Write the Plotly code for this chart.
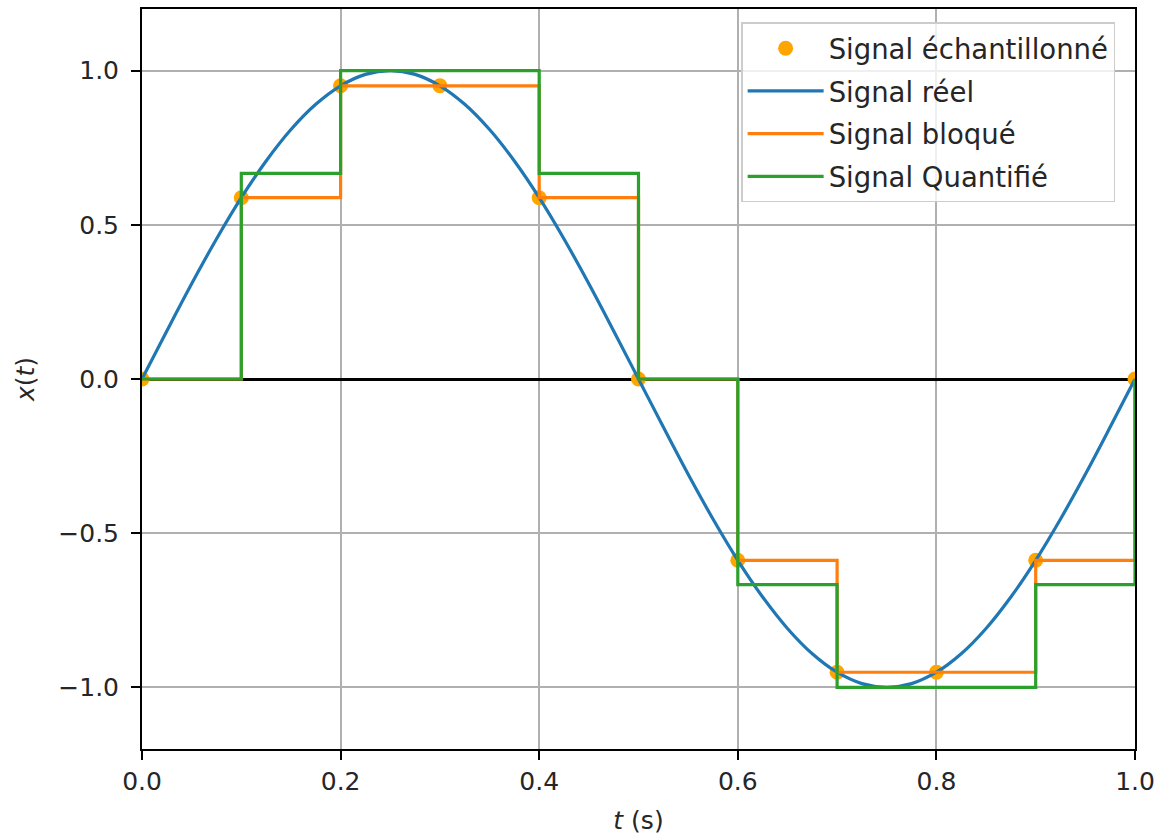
import plotly.graph_objects as go

# Time base of the continuous signal (s) and its amplitude
t_real = [0.000, 0.025, 0.050, 0.075, 0.100, 0.125, 0.150, 0.175, 0.200, 0.225,
          0.250, 0.275, 0.300, 0.325, 0.350, 0.375, 0.400, 0.425, 0.450, 0.475,
          0.500, 0.525, 0.550, 0.575, 0.600, 0.625, 0.650, 0.675, 0.700, 0.725,
          0.750, 0.775, 0.800, 0.825, 0.850, 0.875, 0.900, 0.925, 0.950, 0.975,
          1.000]
x_real = [0.000, 0.156, 0.309, 0.454, 0.588, 0.707, 0.809, 0.891, 0.951, 0.988,
          1.000, 0.988, 0.951, 0.891, 0.809, 0.707, 0.588, 0.454, 0.309, 0.156,
          0.000, -0.156, -0.309, -0.454, -0.588, -0.707, -0.809, -0.891, -0.951, -0.988,
          -1.000, -0.988, -0.951, -0.891, -0.809, -0.707, -0.588, -0.454, -0.309, -0.156,
          0.000]

# Sampling instants and sampled / held values
t_samples = [0.0, 0.1, 0.2, 0.3, 0.4, 0.5, 0.6, 0.7, 0.8, 0.9, 1.0]
x_samples = [0.000, 0.588, 0.951, 0.951, 0.588, 0.000, -0.588, -0.951, -0.951, -0.588, 0.000]

# Quantized levels (steps of 1/3)
x_quant = [0.0, 0.667, 1.0, 1.0, 0.667, 0.0, -0.667, -1.0, -1.0, -0.667, 0.0]

x_ticks = [0.0, 0.2, 0.4, 0.6, 0.8, 1.0]
x_ticklabels = ["0.0", "0.2", "0.4", "0.6", "0.8", "1.0"]
y_ticks = [-1.0, -0.5, 0.0, 0.5, 1.0]
y_ticklabels = ["\u22121.0", "\u22120.5", "0.0", "0.5", "1.0"]

FONT = "DejaVu Sans"
FS = 25
LW = 3.2

fig = go.Figure()

fig.add_trace(go.Scatter(
    x=t_samples, y=x_samples, mode="markers", name="Signal échantillonné",
    legendgroup="a",
    marker=dict(color="#ffa500", size=15, line=dict(width=0)),
))
fig.add_trace(go.Scatter(
    x=t_real, y=x_real, mode="lines", name="Signal réel", legendgroup="b",
    line=dict(color="#1f77b4", width=LW, shape="spline", smoothing=1.0),
))
fig.add_trace(go.Scatter(
    x=t_samples, y=x_samples, mode="lines", name="Signal bloqué", legendgroup="c",
    line=dict(color="#ff7f0e", width=LW, shape="hv"),
))
fig.add_trace(go.Scatter(
    x=t_samples, y=x_quant, mode="lines", name="Signal Quantifié", legendgroup="d",
    line=dict(color="#2ca02c", width=LW, shape="hv"),
))

axis_common = dict(
    showline=True, linecolor="black", linewidth=2, mirror=True,
    ticks="outside", ticklen=9, tickwidth=2, tickcolor="black",
    showgrid=True, gridcolor="#b0b0b0", gridwidth=1.5,
    tickfont=dict(family=FONT, size=FS, color="#262626"),
    automargin=False,
)

fig.update_xaxes(
    range=[0, 1], tickvals=x_ticks, ticktext=x_ticklabels,
    zeroline=False,
    title=dict(text="<i>t</i> (s)", font=dict(family=FONT, size=FS, color="#262626"), standoff=16),
    **axis_common,
)
fig.update_yaxes(
    range=[-1.2, 1.2], tickvals=y_ticks, ticktext=y_ticklabels,
    zeroline=True, zerolinecolor="black", zerolinewidth=LW,
    ticklabelstandoff=7,
    title=dict(text="<i>x</i>(<i>t</i>)", font=dict(family=FONT, size=FS, color="#262626"), standoff=17),
    **axis_common,
)

fig.update_layout(
    width=1159, height=838,
    margin=dict(l=142, r=24, t=9, b=89),
    paper_bgcolor="white", plot_bgcolor="white",
    font=dict(family=FONT, size=FS, color="#262626"),
    showlegend=True,
    legend=dict(
        x=0.980, y=0.982, xanchor="right", yanchor="top",
        traceorder="grouped", tracegroupgap=4,
        bgcolor="rgba(255,255,255,0.8)", bordercolor="#cccccc", borderwidth=1.5,
        font=dict(family=FONT, size=27.5, color="#262626"),
        itemwidth=76,
    ),
)

fig.write_html("out.html")
